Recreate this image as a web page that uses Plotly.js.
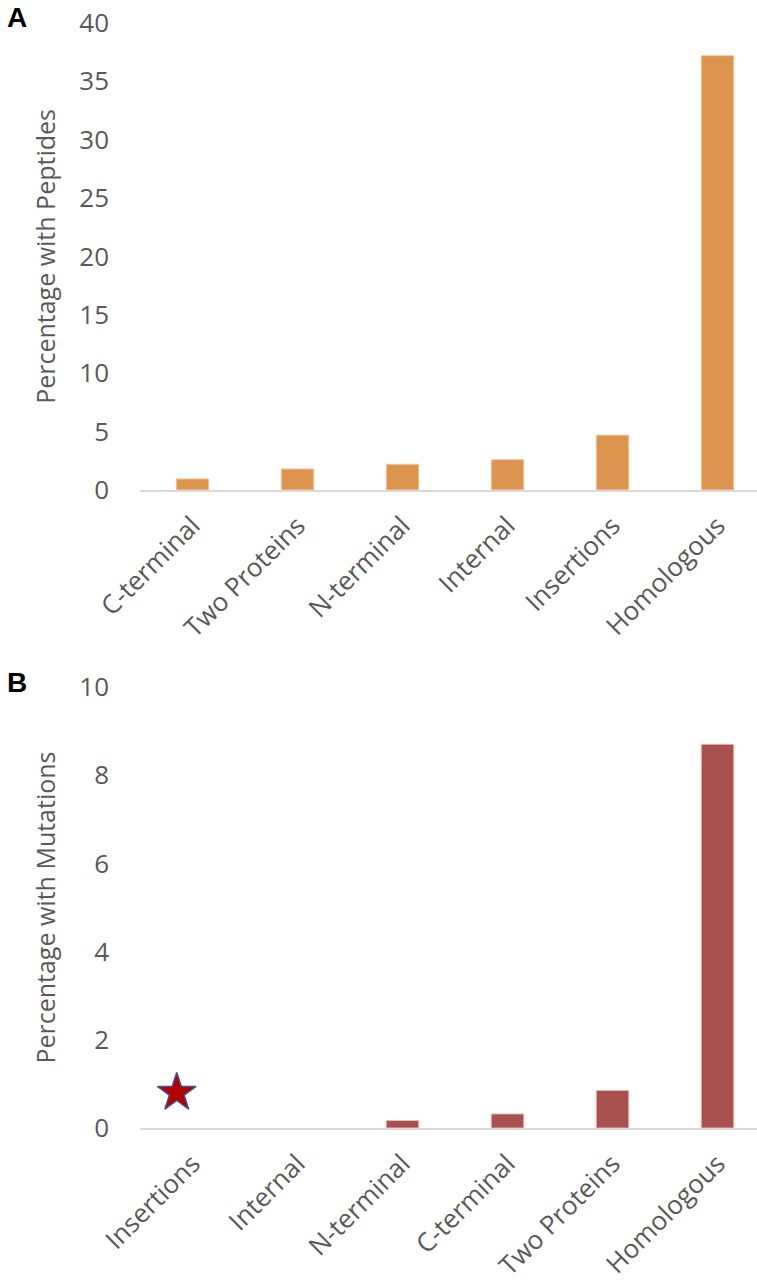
<!DOCTYPE html>
<html>
<head>
<meta charset="utf-8">
<script src="https://cdn.plot.ly/plotly-3.0.1.min.js"></script>
<style>
  html, body { margin: 0; padding: 0; background: #fff; }
  #chart { width: 757px; height: 1282px; }
</style>
</head>
<body>
<div id="chart"></div>
<script>
// panel A: percentage with peptides
var catsA = ['C-terminal', 'Two Proteins', 'N-terminal', 'Internal', 'Insertions', 'Homologous'];
var valsA = [0.95, 1.8, 2.2, 2.6, 4.7, 37.2];

// panel B: percentage with mutations
var catsB = ['Insertions', 'Internal', 'N-terminal', 'C-terminal', 'Two Proteins', 'Homologous'];
var valsB = [0, 0, 0.17, 0.32, 0.85, 8.7];

// star marker over Insertions in panel B
var starX = [-0.15];
var starY = [0.8];

var idxA = catsA.map(function (c, i) { return i; });
var idxB = catsB.map(function (c, i) { return i; });

var grey = '#595959';
var fnt = '"Open Sans", Lato, sans-serif';

var barsA = {
  x: idxA, y: valsA, type: 'bar', width: 0.31,
  marker: { color: '#dd944f', line: { color: '#f2c9a3', width: 1 } },
  xaxis: 'x', yaxis: 'y', hoverinfo: 'skip'
};

var barsB = {
  x: idxB, y: valsB, type: 'bar', width: 0.31,
  marker: {
    color: '#a9514f',
    line: { color: '#e6b8b7', width: valsB.map(function (v) { return v > 0 ? 1 : 0; }) }
  },
  xaxis: 'x2', yaxis: 'y2', hoverinfo: 'skip'
};

var star = {
  x: starX, y: starY, type: 'scatter', mode: 'markers',
  marker: { symbol: 'star', size: 29, color: '#b00000', line: { color: '#4b4b8f', width: 1.5 } },
  xaxis: 'x2', yaxis: 'y2', cliponaxis: false, hoverinfo: 'skip'
};

var xcommon = {
  tickmode: 'array', tickangle: -45,
  range: [-0.5, 5.376],
  showgrid: false, zeroline: false,
  showline: true, linecolor: '#d9d9d9', linewidth: 2,
  ticks: '', ticklabelstandoff: 8,
  tickfont: { size: 26, color: grey, family: fnt }
};

var ycommon = {
  showgrid: false, zeroline: false, showline: false, ticks: '',
  ticklabelstandoff: 30,
  tickfont: { size: 26, color: grey, family: fnt }
};

var layout = {
  width: 757, height: 1282,
  margin: { l: 140, r: 0, t: 0, b: 0 },
  paper_bgcolor: '#fff', plot_bgcolor: '#fff',
  showlegend: false,
  font: { family: fnt, color: grey },
  xaxis: Object.assign({}, xcommon, { tickvals: idxA, ticktext: catsA, anchor: 'y', domain: [0, 1] }),
  yaxis: Object.assign({}, ycommon, {
    domain: [0.6178, 0.9821], range: [0, 40], dtick: 5,
    title: { text: 'Percentage with Peptides', font: { size: 25, color: grey, family: fnt }, standoff: 16 }
  }),
  xaxis2: Object.assign({}, xcommon, { tickvals: idxB, ticktext: catsB, anchor: 'y2', domain: [0, 1] }),
  yaxis2: Object.assign({}, ycommon, {
    domain: [0.1201, 0.4641], range: [0, 10], dtick: 2,
    title: { text: 'Percentage with Mutations', font: { size: 25, color: grey, family: fnt }, standoff: 16 }
  }),
  annotations: [
    { text: '<b>A</b>', xref: 'paper', yref: 'paper', x: -0.219, y: 1 - 17 / 1282, xanchor: 'left', yanchor: 'middle',
      showarrow: false, font: { size: 28, color: '#000', family: 'Liberation Sans, Arial, sans-serif' } },
    { text: '<b>B</b>', xref: 'paper', yref: 'paper', x: -0.219, y: 1 - 682 / 1282, xanchor: 'left', yanchor: 'middle',
      showarrow: false, font: { size: 28, color: '#000', family: 'Liberation Sans, Arial, sans-serif' } }
  ]
};

Plotly.newPlot('chart', [barsA, barsB, star], layout, { displayModeBar: false, staticPlot: true });
</script>
</body>
</html>
